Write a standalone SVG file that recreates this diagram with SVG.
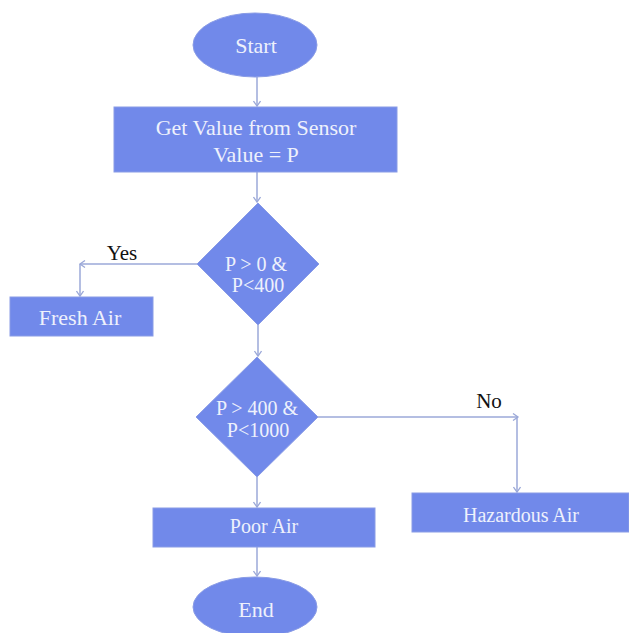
<svg xmlns="http://www.w3.org/2000/svg" width="629" height="633" viewBox="0 0 629 633">
<style>
.shape{fill:#7189ea;stroke:#8a9ce6;stroke-width:1}
text{font-family:'Liberation Serif','Times New Roman',Times,'DejaVu Serif',serif}
.t{fill:#eef1fc;text-anchor:middle}
.lbl{fill:#111;text-anchor:middle;font-size:21px}
.c{stroke:#9ba8d8;stroke-width:1.5;fill:none;marker-end:url(#ah)}
</style>
<defs>
<marker id="ah" markerWidth="8" markerHeight="8" refX="6" refY="4" orient="auto" markerUnits="userSpaceOnUse">
<path d="M1,0.5 L6,4 L1,7.5" fill="none" stroke="#9ba8d8" stroke-width="1.3"/>
</marker>
</defs>
<rect width="629" height="633" fill="#ffffff"/>
<g id="connectors">
<line class="c" x1="257" y1="77" x2="257" y2="106"/>
<line class="c" x1="257" y1="172" x2="257" y2="202"/>
<line class="c" x1="197" y1="264" x2="80" y2="264"/>
<line class="c" x1="80" y1="264" x2="80" y2="296"/>
<line class="c" x1="258" y1="325" x2="258" y2="356"/>
<line class="c" x1="318" y1="417" x2="518" y2="417"/>
<line class="c" x1="517" y1="417" x2="517" y2="492"/>
<line class="c" x1="257" y1="477" x2="257" y2="507"/>
<line class="c" x1="257" y1="547" x2="257" y2="576"/>
</g>
<g id="start">
<ellipse class="shape" cx="255" cy="45" rx="62" ry="32"/>
<text class="t" x="256" y="53" font-size="22" font-family="Liberation Serif, serif">Start</text>
</g>
<g id="getvalue">
<rect class="shape" x="114" y="107" width="283" height="65"/>
<text class="t" x="256" y="135" font-size="22">Get Value from Sensor</text>
<text class="t" x="256" y="162" font-size="22">Value = P</text>
</g>
<g id="decision1">
<polygon class="shape" points="258,203 319,264 258,325 197,264"/>
<text class="t" x="256" y="271" font-size="20">P &gt; 0 &amp;</text>
<text class="t" x="258" y="292" font-size="20">P&lt;400</text>
</g>
<g id="yes-label"><text class="lbl" x="122" y="260">Yes</text></g>
<g id="freshair">
<rect class="shape" x="10" y="297" width="143" height="39"/>
<text class="t" x="80" y="325" font-size="22">Fresh Air</text>
</g>
<g id="decision2">
<polygon class="shape" points="257,357 318,417 257,477 196,417"/>
<text class="t" x="257" y="415" font-size="20">P &gt; 400 &amp;</text>
<text class="t" x="258" y="437" font-size="20">P&lt;1000</text>
</g>
<g id="no-label"><text class="lbl" x="489" y="408">No</text></g>
<g id="poorair">
<rect class="shape" x="153" y="508" width="222" height="39"/>
<text class="t" x="264" y="533" font-size="20">Poor Air</text>
</g>
<g id="hazardous">
<rect class="shape" x="412" y="493" width="217" height="39"/>
<text class="t" x="521" y="522" font-size="20">Hazardous Air</text>
</g>
<g id="end">
<ellipse class="shape" cx="255" cy="607" rx="62" ry="30"/>
<text class="t" x="256" y="617" font-size="22">End</text>
</g>
</svg>
